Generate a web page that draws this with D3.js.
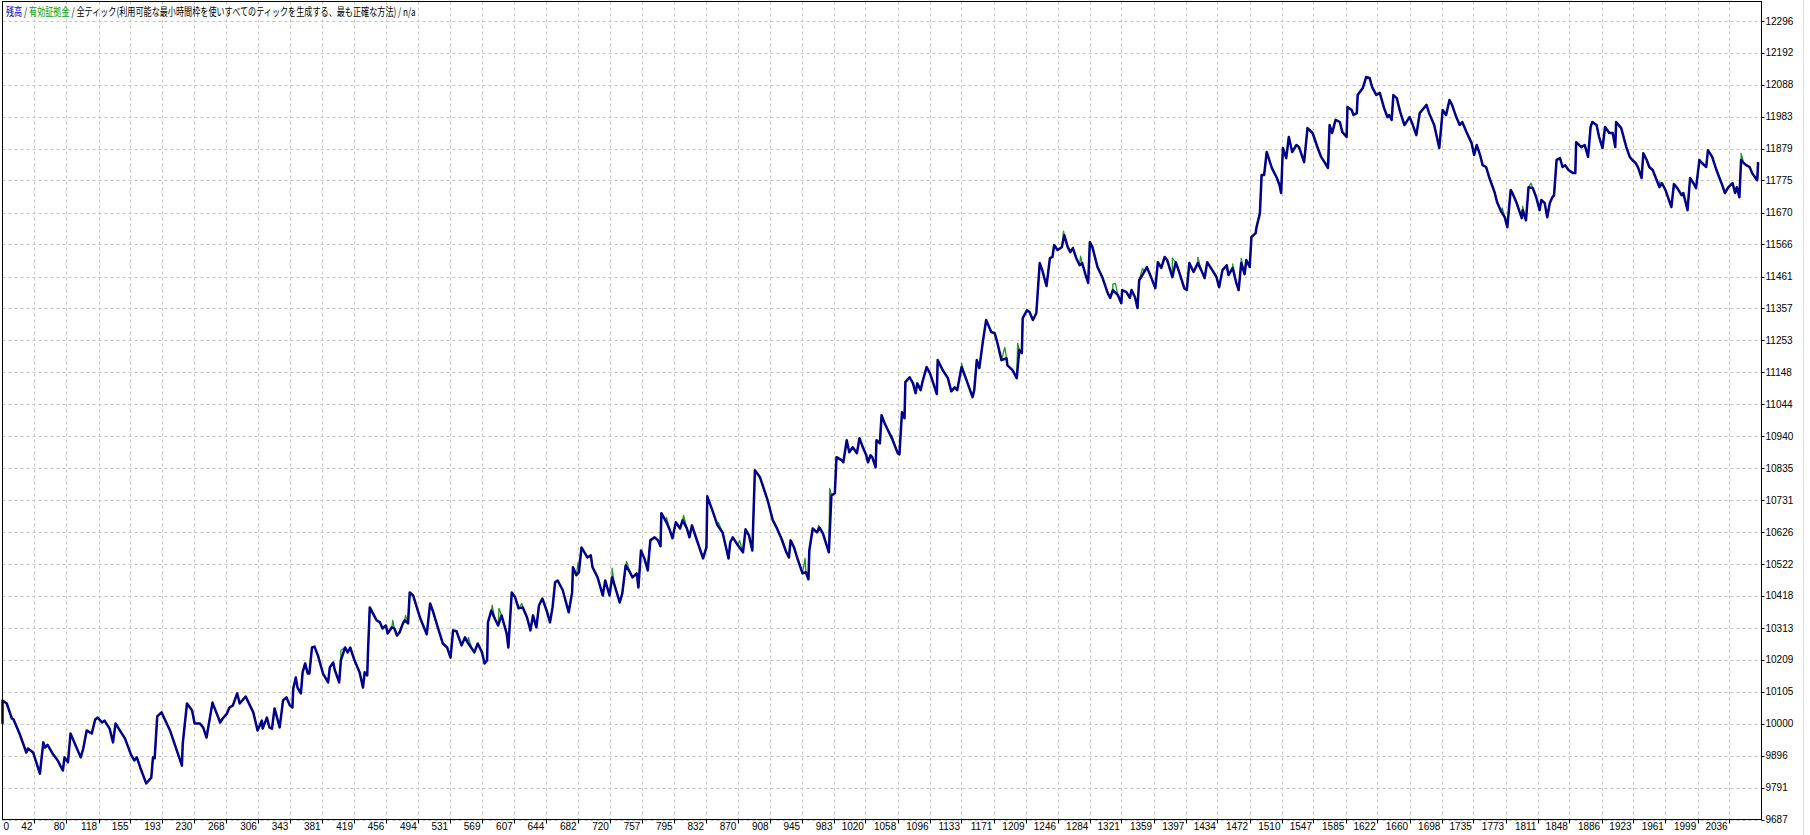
<!DOCTYPE html>
<html><head><meta charset="utf-8">
<script src="https://cdn.jsdelivr.net/npm/d3@7/dist/d3.min.js"></script>
<style>html,body{margin:0;padding:0;background:#fff;}svg{display:block;}</style>
</head><body>
<script>
// ---------- data ----------
const tradeTicks = [0,42,80,118,155,193,230,268,306,343,381,419,456,494,531,569,607,644,682,720,757,795,832,870,908,945,983,1020,1058,1096,1133,1171,1209,1246,1284,1321,1359,1397,1434,1472,1510,1547,1585,1622,1660,1698,1735,1773,1811,1848,1886,1923,1961,1999,2036];
const valueTicks = [9687,9791,9896,10000,10105,10209,10313,10418,10522,10626,10731,10835,10940,11044,11148,11253,11357,11461,11566,11670,11775,11879,11983,12088,12192,12296];
const legendParts = [["残高","balance"],[" / ","plain"],["有効証拠金","equity"],[" / 全ティック(利用可能な最小時間枠を使いすべてのティックを生成する、最も正確な方法) / n/a","plain"]];
// balance: [trade number, balance]
const balance = [[0,10000],[4,10076],[10,10066],[16,10017],[18,10014],[25,9968],[33,9906],[35,9919],[41,9906],[49,9837],[53,9939],[55,9922],[58,9931],[64,9902],[70,9880],[73,9863],[76,9847],[78,9890],[82,9874],[85,9968],[90,9935],[97,9890],[100,9919],[104,9978],[110,9968],[114,10014],[117,10020],[122,10004],[125,10010],[131,9984],[135,9939],[138,10001],[143,9978],[149,9952],[156,9900],[160,9880],[163,9890],[167,9857],[174,9805],[180,9824],[182,9890],[184,9887],[187,10024],[192,10037],[196,10014],[202,9978],[214,9880],[216,9863],[217,9935],[222,10066],[228,10043],[231,10001],[237,10001],[241,9988],[245,9955],[252,10069],[257,10033],[261,10004],[264,10017],[269,10033],[272,10053],[276,10060],[281,10099],[284,10066],[291,10089],[296,10060],[300,10037],[305,9978],[310,10010],[311,9984],[316,10020],[319,9988],[322,9984],[325,10050],[331,9988],
[335,10076],[339,10086],[343,10060],[346,10053],[347,10115],[350,10151],[352,10118],[356,10099],[358,10168],[361,10197],[364,10164],[366,10164],[369,10249],[372,10252],[376,10223],[382,10164],[388,10135],[390,10184],[394,10200],[396,10174],[401,10135],[403,10207],[408,10249],[411,10233],[414,10249],[419,10207],[425,10168],[429,10118],[431,10168],[434,10158],[435,10242],[437,10380],[442,10354],[445,10338],[449,10331],[452,10311],[456,10321],[458,10295],[463,10315],[466,10311],[469,10288],[472,10298],[476,10328],[478,10338],[482,10328],[484,10429],[488,10419],[496,10347],[504,10292],[508,10393],[511,10370],[517,10315],[523,10262],[528,10249],[532,10216],[535,10305],[539,10302],[545,10256],[549,10282],[552,10266],[557,10246],[560,10233],[564,10262],[569,10233],[572,10197],[575,10207],[576,10331],[580,10370],[584,10344],[588,10321],[592,10354],[598,10295],[600,10249],[604,10429],[608,10413],[612,10377],[617,10380],[622,10347],[626,10305],[629,10354],[633,10315],[636,10386],[640,10409],[645,10370],[649,10331],[652,10380],[655,10462],[658,10468],[664,10436],[671,10364],
[675,10429],[676,10511],[680,10485],[683,10495],[686,10576],[690,10557],[693,10543],[697,10550],[699,10511],[705,10478],[711,10419],[714,10468],[719,10419],[722,10478],[725,10452],[731,10396],[734,10426],[738,10517],[743,10495],[746,10478],[751,10491],[753,10445],[756,10566],[760,10540],[764,10501],[767,10599],[772,10609],[776,10599],[779,10580],[780,10688],[786,10658],[790,10632],[793,10606],[797,10658],[802,10638],[805,10665],[810,10638],[813,10609],[816,10648],[821,10606],[827,10557],[829,10540],[833,10576],[834,10743],[840,10697],[846,10648],[852,10625],[859,10540],[861,10593],[864,10609],[870,10583],[876,10560],[879,10635],[883,10615],[887,10566],[890,10828],[896,10805],[905,10730],[911,10665],[916,10638],[921,10606],[927,10560],[930,10543],[932,10599],[936,10576],[940,10540],[946,10491],[950,10495],[953,10472],[954,10566],[958,10638],[963,10625],[966,10641],[970,10622],[977,10560],[980,10746],[984,10753],[986,10871],[992,10861],[994,10854],[998,10926],[1001,10887],[1005,10903],[1010,10884],
[1013,10933],[1017,10903],[1021,10877],[1023,10854],[1026,10877],[1028,10871],[1032,10838],[1033,10926],[1037,10916],[1039,11008],[1043,10979],[1051,10933],[1058,10884],[1060,10880],[1063,11018],[1066,10998],[1067,11116],[1072,11132],[1076,11112],[1079,11080],[1081,11112],[1085,11090],[1087,11116],[1092,11165],[1096,11145],[1104,11077],[1105,11188],[1111,11155],[1117,11129],[1121,11086],[1125,11099],[1128,11090],[1133,11165],[1139,11122],[1146,11067],[1148,11090],[1151,11188],[1154,11162],[1158,11246],[1162,11319],[1168,11280],[1172,11276],[1175,11247],[1180,11188],[1186,11194],[1187,11171],[1193,11155],[1198,11129],[1201,11221],[1204,11211],[1205,11325],[1210,11351],[1213,11345],[1217,11319],[1221,11341],
[1225,11505],[1228,11482],[1233,11430],[1237,11521],[1240,11525],[1242,11564],[1246,11548],[1251,11557],[1254,11596],[1258,11557],[1261,11541],[1264,11554],[1268,11521],[1272,11498],[1275,11505],[1279,11466],[1282,11440],[1284,11574],[1287,11557],[1293,11492],[1299,11456],[1305,11407],[1308,11391],[1311,11417],[1317,11400],[1321,11374],[1322,11417],[1327,11410],[1331,11391],[1333,11417],[1337,11394],[1340,11358],[1342,11449],[1348,11476],[1351,11492],[1356,11459],[1361,11423],[1364,11508],[1368,11489],[1372,11525],[1375,11515],[1381,11459],[1385,11508],[1389,11476],[1395,11423],[1398,11417],[1401,11505],[1406,11476],[1411,11505],[1415,11482],[1419,11456],[1422,11508],[1428,11482],[1433,11459],[1436,11426],[1440,11482],[1445,11498],[1447,11466],[1452,11489],[1456,11443],[1459,11417],
[1462,11505],[1466,11469],[1468,11515],[1472,11492],[1474,11590],[1479,11603],[1480,11622],[1484,11668],[1486,11793],[1489,11793],[1492,11868],[1498,11816],[1504,11783],[1507,11760],[1509,11734],[1511,11881],[1515,11848],[1518,11917],[1522,11868],[1527,11891],[1530,11884],[1536,11835],[1540,11946],[1546,11930],[1552,11881],[1556,11852],[1560,11835],[1564,11816],[1566,11956],[1569,11930],[1573,11973],[1578,11966],[1581,11933],[1586,11917],[1587,12015],[1592,12005],[1594,11989],[1598,11995],[1599,12054],[1605,12077],[1609,12113],[1613,12110],[1616,12080],[1621,12054],[1625,12061],[1630,12012],[1634,11982],[1636,11989],[1639,11973],[1641,12054],[1645,12044],[1649,11999],[1654,11956],[1660,11982],[1663,11963],[1668,11923],[1672,11995],[1675,12005],[1680,12022],[1683,11995],[1689,11956],[1695,11881],[1699,12005],[1703,11989],[1707,12038],[1710,12022],[1715,11982],[1719,11956],[1722,11966],[1727,11933],[1733,11897],[1736,11858],[1739,11891],[1743,11858],[1746,11825],[1750,11819],[1754,11783],
[1760,11737],[1763,11704],[1768,11672],[1772,11655],[1775,11622],[1779,11744],[1781,11734],[1786,11701],[1792,11652],[1793,11678],[1797,11645],[1800,11753],[1805,11750],[1809,11720],[1813,11678],[1815,11711],[1819,11701],[1822,11655],[1825,11701],[1828,11720],[1830,11727],[1833,11842],[1837,11848],[1840,11819],[1843,11825],[1847,11809],[1852,11799],[1855,11799],[1856,11900],[1862,11884],[1866,11891],[1870,11852],[1873,11950],[1875,11966],[1880,11956],[1883,11917],[1887,11881],[1890,11950],[1895,11930],[1899,11930],[1902,11884],[1903,11966],[1909,11946],[1915,11884],[1919,11852],[1922,11842],[1926,11832],[1929,11816],[1933,11783],[1935,11864],[1939,11842],[1942,11819],[1946,11809],[1954,11753],[1957,11766],[1961,11744],[1968,11688],[1971,11763],[1975,11750],[1980,11727],[1982,11734],[1987,11678],[1990,11783],[1994,11766],[1997,11750],[2001,11842],[2004,11832],[2009,11819],[2011,11874],[2016,11852],[2021,11809],[2027,11766],[2031,11734],[2035,11753],[2040,11766],[2043,11734],[2045,11753],[2048,11720],[2050,11842],[2053,11832],[2056,11825],[2060,11819],[2063,11799],[2067,11783],[2069,11776],[2070,11835]];
// equity excursions visible above/below the balance line: [trade number, equity]
const equityExtremes = [[403,10240],[424,10174],[464,10338],[479,10354],[553,10282],[581,10387],[589,10377],[616,10393],[682,10527],[722,10508],[739,10530],[764,10524],[786,10674],[806,10681],[847,10658],[872,10599],[923,10599],[949,10540],[965,10648],[978,10769],[1051,10943],[1133,11178],[1184,11230],[1199,11243],[1253,11609],[1273,11528],[1311,11436],[1314,11439],[1346,11488],[1381,11521],[1411,11524],[1452,11502],[1462,11521],[1565,11832],[1769,11685],[1793,11691],[1803,11766],[1954,11770],[2050,11864]];
const tradeDomain = [5, 2074];

// ---------- layout ----------
const W = 1810, H = 835;
const L = 2.5, R = 1761.5, T = 1.5, B = 819.5;
const svg = d3.select("body").append("svg").attr("width", W).attr("height", H);
svg.append("rect").attr("width", W).attr("height", H).attr("fill", "#fff");

const x = d3.scaleLinear().domain(tradeDomain).range([L, R]).clamp(true);
const y = d3.scaleLinear().domain([valueTicks[0], valueTicks[valueTicks.length-1]]).range([B, 21]);

const font = "Tahoma, 'Liberation Sans', Arial, sans-serif";
const grid = svg.append("g").attr("stroke", "#c4c4c4").attr("stroke-width", 1).attr("stroke-dasharray", "3,3");
grid.selectAll("line.h").data(valueTicks).join("line")
  .attr("x1", L).attr("x2", R)
  .attr("y1", d => Math.round(y(d)) + 0.5).attr("y2", d => Math.round(y(d)) + 0.5);
grid.selectAll("line.v").data(tradeTicks.slice(1)).join("line")
  .attr("y1", T).attr("y2", B)
  .attr("x1", d => Math.round(x(d)) + 0.5).attr("x2", d => Math.round(x(d)) + 0.5);

// equity (under), balance (over)
const eq = balance.concat(equityExtremes).sort((a, b) => a[0] - b[0]);
const line = d3.line().x(d => x(d[0])).y(d => y(d[1]));
svg.append("path").datum(eq).attr("d", line).attr("fill", "none")
  .attr("stroke", "#1e9a1e").attr("stroke-width", 1.3).attr("stroke-linejoin", "round");
svg.append("path").datum(balance).attr("d", line).attr("fill", "none")
  .attr("stroke", "#00008b").attr("stroke-width", 2.5).attr("stroke-linejoin", "round");

// frame
svg.append("rect").attr("x", L).attr("y", T).attr("width", R - L).attr("height", B - T)
  .attr("fill", "none").attr("stroke", "#000").attr("stroke-width", 1);

// y axis (right)
const ya = svg.append("g");
ya.selectAll("line").data(valueTicks).join("line")
  .attr("x1", R).attr("x2", R + 3)
  .attr("y1", d => Math.round(y(d)) + 0.5).attr("y2", d => Math.round(y(d)) + 0.5)
  .attr("stroke", "#000");
ya.selectAll("text").data(valueTicks).join("text")
  .attr("x", R + 4).attr("y", d => y(d)).attr("dy", "0.36em")
  .attr("font-family", font).attr("font-size", 10).attr("fill", "#000")
  .text(d => d);

// x axis (bottom)
const xa = svg.append("g");
xa.selectAll("line").data(tradeTicks.slice(1)).join("line")
  .attr("x1", d => Math.round(x(d)) + 0.5).attr("x2", d => Math.round(x(d)) + 0.5)
  .attr("y1", B).attr("y2", B + 4).attr("stroke", "#000");
xa.selectAll("text").data(tradeTicks).join("text")
  .attr("x", (d, i) => i === 0 ? x(d) + 1 : x(d) - 1.5)
  .attr("y", 830)
  .attr("text-anchor", (d, i) => i === 0 ? "start" : "end")
  .attr("font-family", font).attr("font-size", 10).attr("fill", "#000")
  .text(d => d);

// right window border
svg.append("line").attr("x1", 1803.5).attr("x2", 1803.5).attr("y1", 0).attr("y2", H)
  .attr("stroke", "#dcdcdc");

// legend: one text, scaled horizontally to the reference width
const colors = {balance: "#0000c8", equity: "#00a000", plain: "#000"};
const lg = svg.append("text").attr("x", 0).attr("y", 0)
  .attr("font-family", "'Noto Sans CJK JP', sans-serif").attr("font-size", 11)
  .attr("xml:space", "preserve");
lg.selectAll("tspan").data(legendParts).join("tspan")
  .attr("fill", d => colors[d[1]]).text(d => d[0]);
const lw = lg.node().getComputedTextLength();
lg.attr("transform", `translate(6,16) scale(${410 / lw},1)`);
</script>
</body></html>
